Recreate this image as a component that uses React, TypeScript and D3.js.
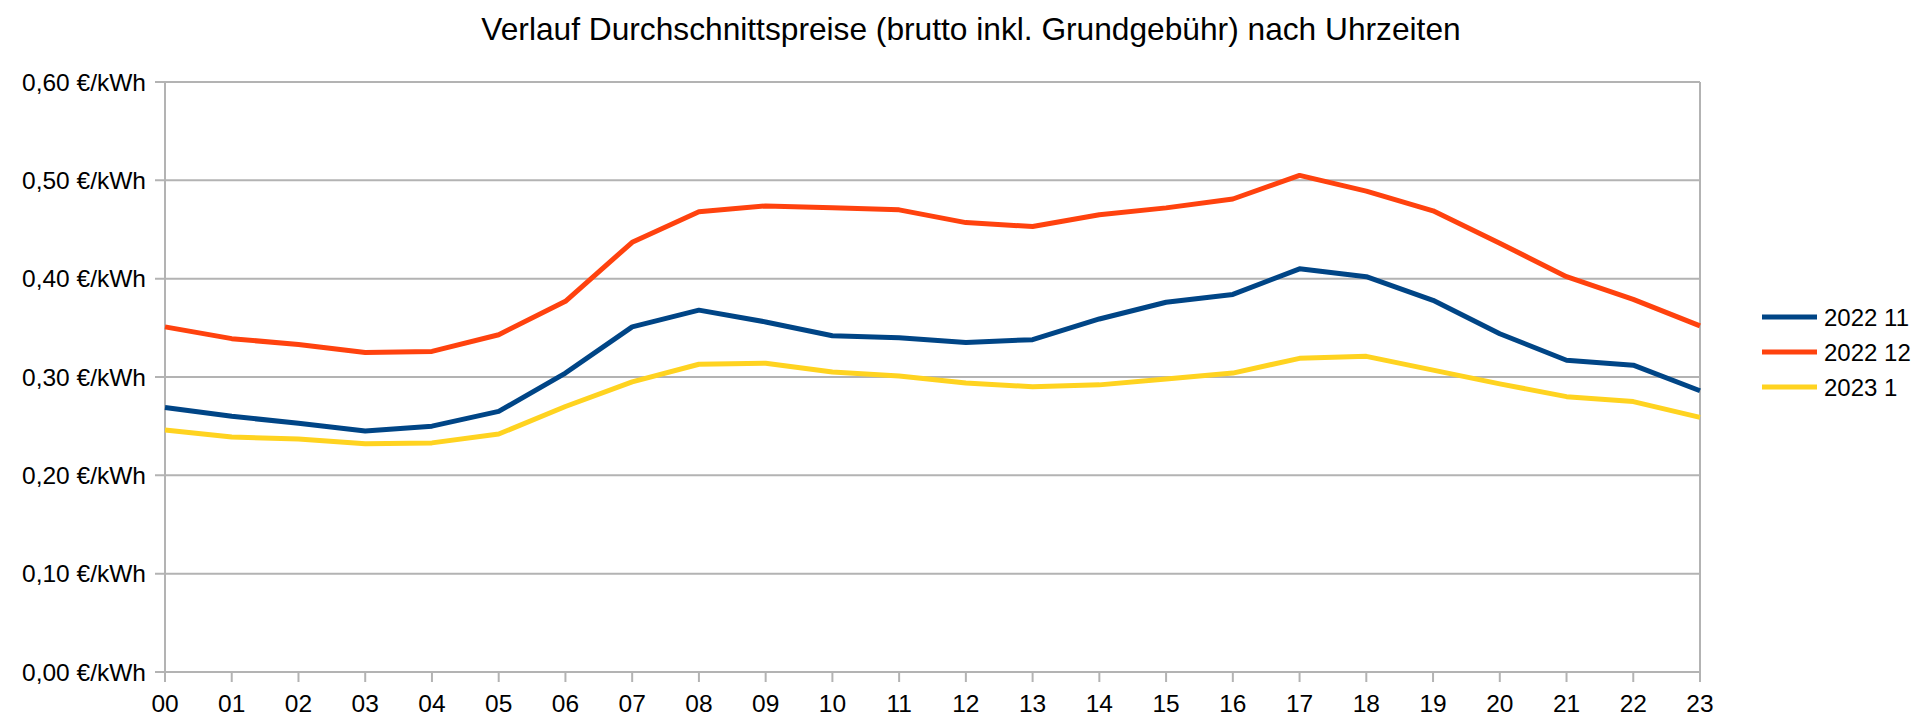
import { useRef, useEffect } from "react";
import * as d3 from "d3";

const hours = ["00", "01", "02", "03", "04", "05", "06", "07", "08", "09", "10", "11",
  "12", "13", "14", "15", "16", "17", "18", "19", "20", "21", "22", "23"];

const nov2022 = [0.269, 0.26, 0.253, 0.245, 0.25, 0.265, 0.304, 0.351, 0.368, 0.356, 0.342, 0.34,
  0.335, 0.338, 0.359, 0.376, 0.384, 0.41, 0.402, 0.378, 0.344, 0.317, 0.312, 0.286];
const dec2022 = [0.351, 0.339, 0.333, 0.325, 0.326, 0.343, 0.377, 0.437, 0.468, 0.474, 0.472, 0.47,
  0.457, 0.453, 0.465, 0.472, 0.481, 0.505, 0.489, 0.469, 0.436, 0.402, 0.379, 0.352];
const jan2023 = [0.246, 0.239, 0.237, 0.232, 0.233, 0.242, 0.27, 0.295, 0.313, 0.314, 0.305, 0.301,
  0.294, 0.29, 0.292, 0.298, 0.304, 0.319, 0.321, 0.307, 0.293, 0.28, 0.275, 0.259];

const seriesNames = ["2022 11", "2022 12", "2023 1"];
const seriesColors = ["#004586", "#ff420e", "#ffd320"];
const yTicks = [0, 0.1, 0.2, 0.3, 0.4, 0.5, 0.6];

const title = "Verlauf Durchschnittspreise (brutto inkl. Grundgebühr) nach Uhrzeiten";

const W = 1920;
const H = 726;
const FONT = "'Liberation Sans', Arial, sans-serif";

export default function App() {
  const svgRef = useRef<SVGSVGElement>(null);

  useEffect(() => {
    if (!svgRef.current) return;
    const svg = d3.select(svgRef.current);
    svg.selectAll("*").remove();

    const margin = { top: 82, right: 220, bottom: 54, left: 165 };
    const width = W - margin.left - margin.right;
    const height = H - margin.top - margin.bottom;

    const x = d3.scalePoint<string>().domain(hours).range([0, width]);
    const y = d3.scaleLinear().domain([0, 0.6]).range([height, 0]);

    const g = svg.append("g").attr("transform", `translate(${margin.left},${margin.top})`);

    // title
    svg.append("text")
      .attr("x", 971)
      .attr("y", 40)
      .attr("text-anchor", "middle")
      .attr("font-family", FONT)
      .attr("font-size", "31.7px")
      .attr("fill", "#000")
      .text(title);

    // gridlines
    yTicks.forEach((t) => {
      g.append("line")
        .attr("x1", -10)
        .attr("x2", width)
        .attr("y1", y(t))
        .attr("y2", y(t))
        .attr("stroke", "#b3b3b3")
        .attr("stroke-width", 2);
    });

    // walls
    g.append("line")
      .attr("x1", 0).attr("x2", 0)
      .attr("y1", 0).attr("y2", height + 10)
      .attr("stroke", "#b3b3b3").attr("stroke-width", 2);
    g.append("line")
      .attr("x1", width).attr("x2", width)
      .attr("y1", 0).attr("y2", height + 10)
      .attr("stroke", "#b3b3b3").attr("stroke-width", 2);

    // x ticks
    hours.forEach((h) => {
      g.append("line")
        .attr("x1", x(h)!).attr("x2", x(h)!)
        .attr("y1", height).attr("y2", height + 10)
        .attr("stroke", "#b3b3b3").attr("stroke-width", 2);
      g.append("text")
        .attr("x", x(h)!)
        .attr("y", height + 40)
        .attr("text-anchor", "middle")
        .attr("font-family", FONT)
        .attr("font-size", "24.5px")
        .attr("fill", "#000")
        .text(h);
    });

    // y labels
    yTicks.forEach((t) => {
      g.append("text")
        .attr("x", -19)
        .attr("y", y(t))
        .attr("dy", "0.36em")
        .attr("text-anchor", "end")
        .attr("font-family", FONT)
        .attr("font-size", "24.5px")
        .attr("fill", "#000")
        .text(`${t.toFixed(2).replace(".", ",")} €/kWh`);
    });

    // lines
    const line = d3.line<number>()
      .x((_, i) => x(hours[i])!)
      .y((d) => y(d));

    [nov2022, dec2022, jan2023].forEach((values, i) => {
      g.append("path")
        .datum(values)
        .attr("fill", "none")
        .attr("stroke", seriesColors[i])
        .attr("stroke-width", 5)
        .attr("stroke-linejoin", "round")
        .attr("d", line);
    });

    // legend
    const legend = svg.append("g").attr("transform", "translate(1762,317)");
    seriesNames.forEach((name, i) => {
      const ly = i * 35;
      legend.append("line")
        .attr("x1", 0).attr("x2", 55)
        .attr("y1", ly).attr("y2", ly)
        .attr("stroke", seriesColors[i])
        .attr("stroke-width", 5);
      legend.append("text")
        .attr("x", 62)
        .attr("y", ly)
        .attr("dy", "0.36em")
        .attr("font-family", FONT)
        .attr("font-size", "24px")
        .attr("fill", "#000")
        .text(name);
    });
  }, []);

  return (
    <svg
      ref={svgRef}
      width={W}
      height={H}
      style={{ position: "absolute", left: 0, top: 0, background: "#fff" }}
    />
  );
}
